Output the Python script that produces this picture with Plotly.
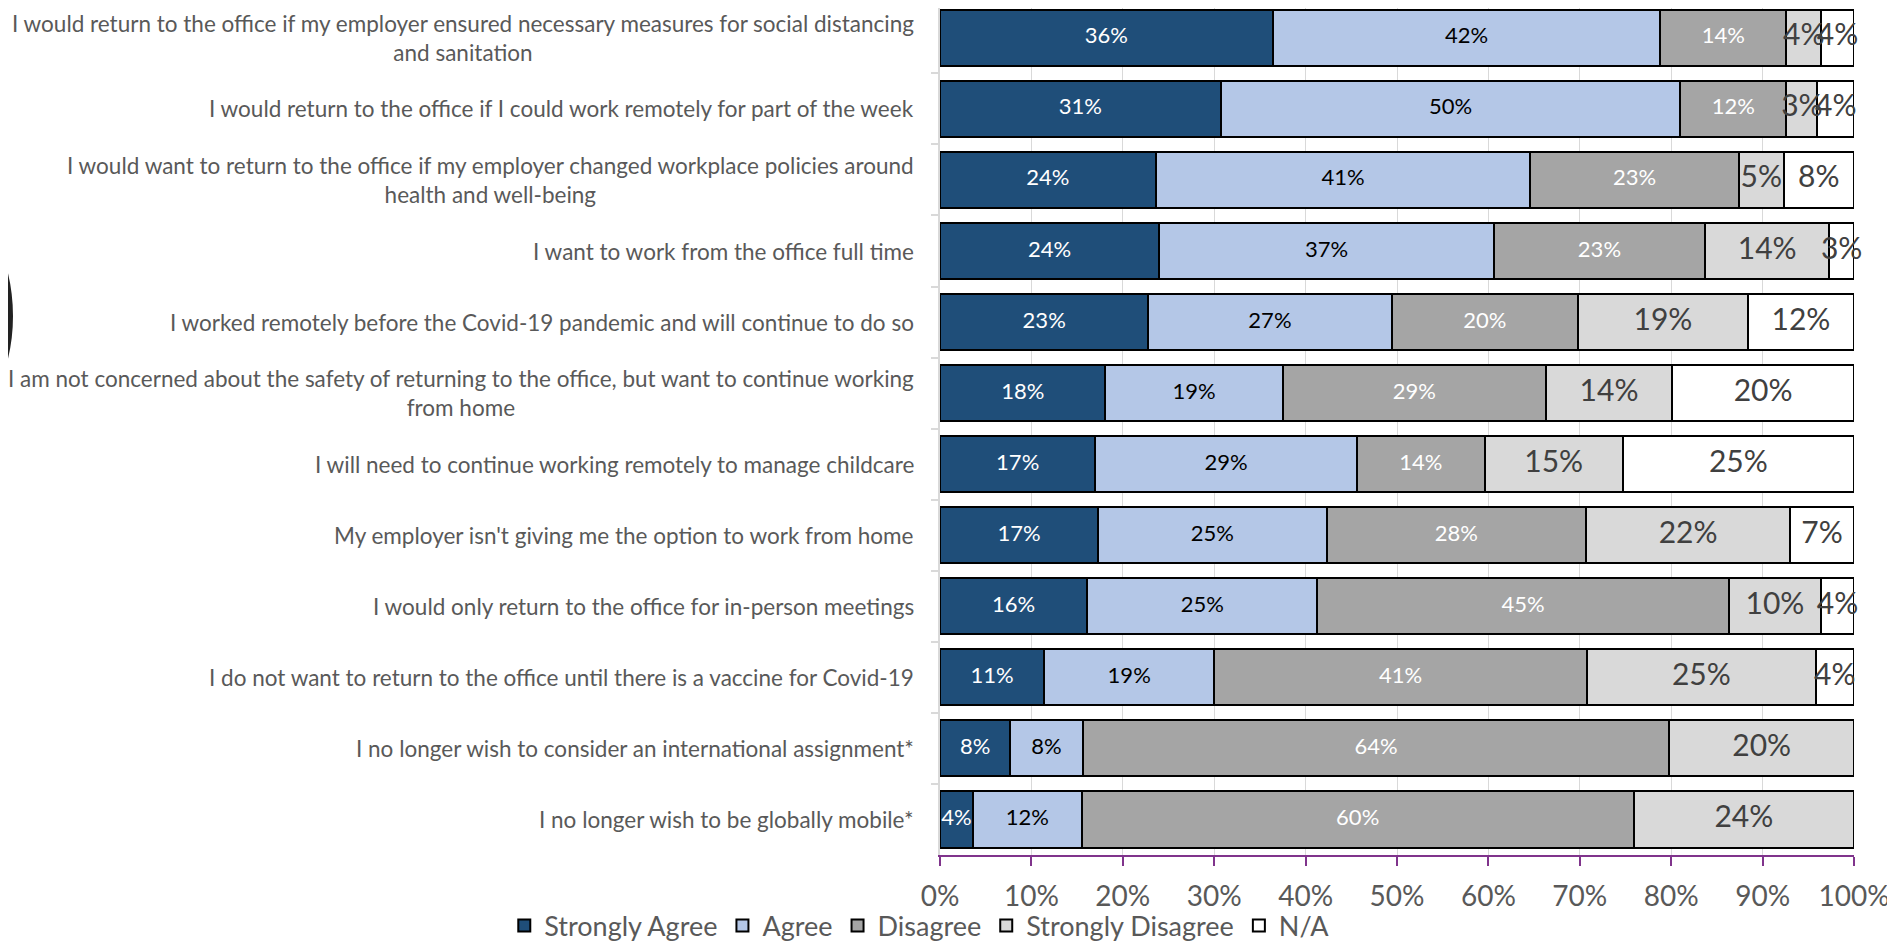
import plotly.graph_objects as go

categories = [
    "I would return to the office if my employer ensured necessary measures for social distancing<br>and sanitation",
    "I would return to the office if I could work remotely for part of the week",
    "I would want to return to the office if my employer changed workplace policies around<br>health and well-being",
    "I want to work from the office full time",
    "I worked remotely before the Covid-19 pandemic and will continue to do so",
    "I am not concerned about the safety of returning to the office, but want to continue working<br>from home",
    "I will need to continue working remotely to manage childcare",
    "My employer isn't giving me the option to work from home",
    "I would only return to the office for in-person meetings",
    "I do not want to return to the office until there is a vaccine for Covid-19",
    "I no longer wish to consider an international assignment*",
    "I no longer wish to be globally mobile*",
]

series_names = ["Strongly Agree", "Agree", "Disagree", "Strongly Disagree", "N/A"]

strongly_agree = [36.4, 30.7, 23.6, 24.0, 22.8, 18.1, 17.0, 17.3, 16.1, 11.4, 7.7, 3.6]
agree = [42.4, 50.3, 41.0, 36.6, 26.6, 19.4, 28.6, 25.0, 25.2, 18.6, 7.9, 11.9]
disagree = [13.8, 11.6, 22.8, 23.1, 20.4, 28.8, 14.0, 28.4, 45.0, 40.8, 64.2, 60.4]
strongly_disagree = [3.8, 3.4, 4.9, 13.6, 18.6, 13.8, 15.1, 22.3, 10.1, 25.0, 20.2, 24.1]
not_applicable = [3.6, 4.0, 7.7, 2.7, 11.6, 19.9, 25.3, 7.0, 3.6, 4.2, 0, 0]

series_values = [strongly_agree, agree, disagree, strongly_disagree, not_applicable]
fill_colors = ["#1F4E79", "#B4C7E7", "#A5A5A5", "#D9D9D9", "#FFFFFF"]
label_colors = ["#FFFFFF", "#000000", "#FFFFFF", "#404040", "#404040"]
label_sizes = [22, 22, 22, 30, 30]

FONT = "Lato, 'Open Sans', sans-serif"
# the page body has an 8px margin, so the figure is sized/offset to compensate
W, H = 1887, 933
ML, MR, MT, MB = 932, 41, 0, 86
PW, PH = W - ML - MR, H - MT - MB

fig = go.Figure()

for name, vals, col in zip(series_names, series_values, fill_colors):
    fig.add_trace(go.Bar(
        name=name, y=categories, x=[v / 100 for v in vals], orientation="h",
        marker=dict(color=col, line=dict(color="#000000", width=2)),
        hoverinfo="skip",
    ))

# data labels as text traces (no auto-shrinking, may overflow like the original)
cum = [0.0] * len(categories)
for name, vals, tc, ts in zip(series_names, series_values, label_colors, label_sizes):
    xs, ys, ts_ = [], [], []
    for i, v in enumerate(vals):
        if v > 0:
            xs.append((cum[i] + v / 2) / 100)
            ys.append(categories[i])
            ts_.append(f"{round(v)}%")
        cum[i] += v
    fig.add_trace(go.Scatter(
        x=xs, y=ys, text=ts_, mode="text", textposition="middle center",
        textfont=dict(family=FONT, size=ts, color=tc),
        showlegend=False, hoverinfo="skip", cliponaxis=False,
    ))

# category labels (centered multi-line, right-aligned block)
for c in categories:
    fig.add_annotation(
        x=0, xref="paper", y=c, yref="y", text=c, showarrow=False,
        xanchor="right", yanchor="middle", align="center", xshift=-24,
        font=dict(family=FONT, size=22.5, color="#595959"),
    )

# decorative arc at left edge of the page (part of a large circle)
def px_to_paper_x(fx):
    return (fx - ML) / PW

def px_to_paper_y(fy):
    return (H - MB - fy) / PH

R, cx_right, cy = 182, 2, 308
fig.add_shape(
    type="circle", xref="paper", yref="paper",
    x0=px_to_paper_x(cx_right - 2 * R), x1=px_to_paper_x(cx_right),
    y0=px_to_paper_y(cy + R), y1=px_to_paper_y(cy - R),
    line=dict(color="#222222", width=6), layer="above",
)

fig.update_layout(
    width=W, height=H,
    barmode="stack", bargap=0.21,
    margin=dict(l=ML, r=MR, t=MT, b=MB, autoexpand=False),
    paper_bgcolor="#FFFFFF", plot_bgcolor="#FFFFFF",
    font=dict(family=FONT, color="#595959"),
    showlegend=True,
    legend=dict(
        orientation="h", xref="container", yref="paper",
        x=0.263, y=px_to_paper_y(918), xanchor="left", yanchor="middle",
        font=dict(family=FONT, size=27, color="#595959"),
        traceorder="normal", itemwidth=30, bgcolor="rgba(0,0,0,0)",
        borderwidth=0,
    ),
    xaxis=dict(
        range=[0, 1], dtick=0.1, tickformat=".0%",
        showgrid=True, gridcolor="#D9D9D9", gridwidth=1,
        showline=True, linecolor="#80348C", linewidth=2,
        ticks="outside", tickcolor="#80348C", ticklen=9, tickwidth=2,
        tickfont=dict(family=FONT, size=28, color="#595959"),
        ticklabelstandoff=6, zeroline=False, fixedrange=True,
    ),
    yaxis=dict(
        type="category", range=[11.5, -0.42],
        showticklabels=False, showgrid=False,
        showline=True, linecolor="#D9D9D9", linewidth=2,
        ticks="outside", tickson="boundaries", ticklen=7, tickcolor="#D9D9D9",
        tickwidth=2, zeroline=False, fixedrange=True,
    ),
)

fig.write_html("out.html")
